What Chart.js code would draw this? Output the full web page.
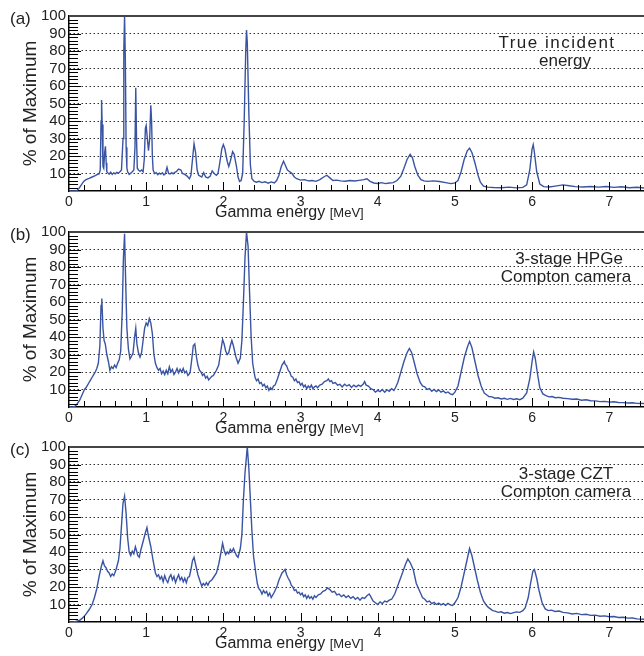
<!DOCTYPE html>
<html>
<head>
<meta charset="utf-8">
<script src="https://cdn.jsdelivr.net/npm/chart.js@4.4.1/dist/chart.umd.min.js"></script>
<style>
  html, body { margin: 0; padding: 0; background: #fff; }
  #wrap { position: relative; width: 644px; height: 656px; overflow: hidden; }
  canvas { position: absolute; left: 0; }
</style>
</head>
<body>
<div id="wrap">
  <canvas id="panel-a" width="644" height="225" style="top:0px"></canvas>
  <canvas id="panel-b" width="644" height="225" style="top:216px"></canvas>
  <canvas id="panel-c" width="644" height="225" style="top:431px"></canvas>
</div>
<script>
// spectra: [energy (MeV), % of maximum]
const trueSpectrum = [
  [0,0],[0.05,0],[0.10,0.2],[0.13,1.5],[0.16,3.5],[0.19,5.5],[0.22,6.5],[0.26,7.2],[0.30,8.0],[0.34,8.8],
  [0.37,9.5],[0.39,9.8],[0.405,12],[0.415,40],[0.422,52],[0.43,38],[0.44,14],[0.45,13],[0.462,22],[0.472,25.5],
  [0.482,16],[0.49,11],[0.50,10.5],[0.52,9.6],[0.54,10.8],[0.56,9.5],[0.58,10.4],[0.60,9.8],[0.62,10.6],[0.64,10.2],
  [0.66,11],[0.68,12],[0.70,30],[0.71,80],[0.72,100],[0.73,75],[0.74,25],[0.75,13],[0.76,11],[0.78,9.5],
  [0.80,10.2],[0.82,11],[0.84,12],[0.855,25],[0.865,59],[0.875,30],[0.885,13],[0.90,12],[0.92,11.2],[0.94,12],
  [0.96,11],[0.975,18],[0.99,36],[1.00,37.5],[1.015,30],[1.03,23],[1.045,30],[1.06,49],[1.07,40],[1.08,20],
  [1.09,12],[1.11,10],[1.13,10.5],[1.15,9.3],[1.17,10.2],[1.19,9.6],[1.21,10.4],[1.23,9.2],[1.25,10],[1.27,13.5],
  [1.29,10],[1.31,9.7],[1.33,10.5],[1.35,9.8],[1.37,10.6],[1.39,11],[1.42,12.5],[1.45,12],[1.47,10],[1.50,9.5],
  [1.53,8.5],[1.56,7],[1.58,9],[1.60,18],[1.62,27],[1.64,22],[1.66,12],[1.68,9],[1.70,8.5],[1.72,8],
  [1.745,10.5],[1.77,8],[1.80,7.5],[1.83,8.5],[1.855,11.5],[1.88,10],[1.91,9],[1.93,10],[1.95,15],[1.98,24],
  [2.00,26.5],[2.02,24],[2.05,17],[2.07,14],[2.09,17],[2.12,22.5],[2.14,21],[2.17,14],[2.19,8],[2.21,5.5],
  [2.23,6],[2.25,10],[2.27,40],[2.29,80],[2.30,92],[2.31,85],[2.33,45],[2.35,15],[2.37,7],[2.40,5.5],
  [2.43,5],[2.46,5.5],[2.50,4.8],[2.54,5.3],[2.58,4.5],[2.62,5.2],[2.66,4.6],[2.69,6],[2.72,9],[2.75,14],
  [2.78,17],[2.80,15],[2.83,12],[2.86,11],[2.89,10],[2.92,8],[2.95,7],[3.00,6.2],[3.05,6.5],[3.10,5.8],
  [3.15,6],[3.20,5.5],[3.25,6.5],[3.30,8],[3.34,9],[3.38,7.5],[3.42,6],[3.47,6.2],[3.52,5.8],[3.58,5.6],
  [3.64,6],[3.70,5.7],[3.76,6.1],[3.82,6.5],[3.86,7],[3.90,5.5],[3.95,4.6],[4.00,4.3],[4.05,4.8],[4.10,4.2],
  [4.15,4.6],[4.20,4.8],[4.25,6],[4.30,8.5],[4.34,13],[4.38,18],[4.42,21],[4.45,19],[4.48,14],[4.52,9],
  [4.56,6.5],[4.60,5.8],[4.65,5.5],[4.72,5.8],[4.80,5.4],[4.88,4.8],[4.95,4.2],[5.00,4.6],[5.04,6],[5.08,11],
  [5.12,18],[5.16,23],[5.19,24.5],[5.22,22],[5.26,16],[5.30,9],[5.33,5],[5.37,2.8],[5.42,2.2],[5.50,2.0],
  [5.60,1.9],[5.70,2.2],[5.80,1.8],[5.88,2.1],[5.93,3.5],[5.97,12],[6.00,24],[6.015,26.5],[6.03,22],[6.06,11],
  [6.10,4],[6.15,2.5],[6.22,2.3],[6.30,2.8],[6.40,3.5],[6.48,3],[6.56,2.5],[6.66,2.3],[6.76,2.6],[6.86,2.2],
  [6.96,2.6],[7.06,2.1],[7.16,2.4],[7.26,1.9],[7.36,2.1],[7.45,1.7]
];

const hpgeSpectrum = [
  [0,0],[0.05,0],[0.08,0.5],[0.11,2],[0.14,4],[0.17,7],[0.20,10],[0.22,11],[0.24,12.5],[0.26,14],
  [0.28,15.5],[0.30,17],[0.32,18.5],[0.34,20],[0.36,22],[0.38,25],[0.40,35],[0.415,58],[0.425,62],[0.44,45],
  [0.455,38],[0.47,36],[0.49,30],[0.51,26],[0.53,21],[0.55,23],[0.57,22],[0.59,24],[0.61,22.5],[0.63,25],
  [0.65,27],[0.67,32],[0.69,55],[0.705,85],[0.72,99],[0.735,70],[0.75,45],[0.77,33],[0.79,27.5],[0.81,29],
  [0.83,31],[0.85,40],[0.865,45],[0.88,36],[0.90,31],[0.92,28.5],[0.94,31],[0.96,38],[0.98,45],[1.00,48],
  [1.02,46.5],[1.04,50.5],[1.06,48],[1.08,42],[1.10,30],[1.12,25],[1.14,22.5],[1.16,21],[1.18,22],[1.20,19],
  [1.22,20.5],[1.24,18.5],[1.26,21],[1.28,19],[1.30,23],[1.32,20],[1.34,21.5],[1.36,18.5],[1.38,20],[1.40,22],
  [1.42,19.5],[1.44,21.5],[1.46,20],[1.48,22],[1.50,19.5],[1.52,20.5],[1.54,18],[1.56,19],[1.57,20],[1.59,27],
  [1.61,35],[1.63,36],[1.65,29],[1.67,24],[1.69,21],[1.71,20],[1.73,18],[1.75,19],[1.77,16.5],[1.79,17.5],
  [1.81,15.5],[1.83,16.5],[1.85,17.5],[1.87,18],[1.89,19.5],[1.91,21],[1.94,24],[1.97,33],[1.99,38.5],[2.01,36],
  [2.03,32],[2.05,30],[2.07,31],[2.09,35],[2.11,38],[2.13,35],[2.16,29],[2.19,25],[2.22,28],[2.24,38],
  [2.26,60],[2.28,85],[2.30,100],[2.32,92],[2.34,65],[2.36,40],[2.38,25],[2.41,17],[2.43,15],[2.45,16],
  [2.47,13.5],[2.49,14],[2.51,12],[2.53,13],[2.55,11],[2.57,12],[2.59,9.5],[2.61,11],[2.63,10],[2.65,12],
  [2.67,12.5],[2.70,16],[2.73,20],[2.76,24],[2.79,26],[2.80,24.5],[2.82,23.5],[2.84,21],[2.86,20],[2.88,17.5],
  [2.90,17],[2.92,15],[2.94,16],[2.96,14],[2.98,14.5],[3.00,12.5],[3.02,13.5],[3.04,11.5],[3.06,12.5],[3.08,10.5],
  [3.10,12],[3.12,11],[3.14,12.5],[3.16,10.5],[3.18,11.5],[3.20,12],[3.22,11],[3.25,12.5],[3.28,13],[3.31,14.5],
  [3.34,15],[3.36,16],[3.38,14.5],[3.40,15],[3.42,13.5],[3.45,14],[3.48,12.5],[3.51,13],[3.54,11.5],[3.57,13],
  [3.60,12],[3.63,12.8],[3.66,11.2],[3.69,12.5],[3.72,11.5],[3.75,12.5],[3.78,11.8],[3.81,13],[3.83,14.5],[3.85,12.5],
  [3.88,12],[3.91,10.5],[3.94,10],[3.97,8.5],[4.00,9.5],[4.03,8.8],[4.06,10],[4.09,8.5],[4.12,9.8],[4.15,9],
  [4.18,10.5],[4.21,9.5],[4.23,11],[4.26,14],[4.30,20],[4.34,26],[4.38,31],[4.41,33.5],[4.44,31],[4.47,26],
  [4.51,19],[4.55,14],[4.58,12],[4.61,11.5],[4.64,10],[4.67,10.5],[4.70,9],[4.73,10],[4.76,8.8],[4.79,9.8],
  [4.82,8.5],[4.85,9.2],[4.88,8],[4.91,8.6],[4.94,7.5],[4.97,7],[5.00,8.5],[5.04,12],[5.08,20],[5.12,28],
  [5.16,34],[5.19,37.5],[5.22,34],[5.26,26],[5.30,18],[5.34,12],[5.38,8],[5.41,7],[5.44,6],[5.48,5.8],
  [5.52,5],[5.56,5.3],[5.60,4.6],[5.64,5],[5.68,4.4],[5.72,4.9],[5.76,4.3],[5.80,4.7],[5.84,4.2],[5.88,5],
  [5.93,8],[5.97,16],[6.00,26],[6.02,31.5],[6.04,28],[6.07,19],[6.10,11],[6.14,7.5],[6.18,6.5],[6.22,5.8],
  [6.26,6],[6.30,5.3],[6.35,5.5],[6.40,5],[6.46,4.8],[6.52,4.4],[6.58,4.6],[6.64,3.9],[6.70,4.1],[6.76,3.6],
  [6.82,3.5],[6.88,3.1],[6.94,3.2],[7.00,2.8],[7.06,3],[7.12,2.6],[7.18,2.5],[7.24,2.3],[7.30,2.4],[7.36,2.1],
  [7.45,2]
];

const cztSpectrum = [
  [0,0],[0.06,0],[0.10,0.5],[0.14,1],[0.18,2.5],[0.22,4.5],[0.26,7],[0.30,10],[0.33,14],[0.36,19],
  [0.39,26],[0.42,32],[0.44,35],[0.46,32],[0.48,31],[0.50,29],[0.52,28],[0.54,26],[0.56,27.5],[0.58,26.5],
  [0.61,30],[0.64,35],[0.66,42],[0.68,55],[0.70,68],[0.72,72],[0.74,62],[0.76,48],[0.78,40],[0.80,38],
  [0.82,40.5],[0.84,39],[0.86,43],[0.88,40],[0.89,38],[0.91,37],[0.93,41],[0.96,46],[0.99,51],[1.01,54],
  [1.03,49],[1.06,43],[1.09,35],[1.12,28],[1.14,26],[1.16,27],[1.18,24.5],[1.20,26],[1.22,23],[1.24,26.5],
  [1.26,24],[1.28,22.5],[1.30,25.5],[1.32,27],[1.34,24],[1.36,26],[1.38,22.5],[1.40,25],[1.42,27],[1.44,24],
  [1.46,25.5],[1.48,23],[1.50,25],[1.52,22.5],[1.54,25.5],[1.56,26],[1.58,30],[1.60,35],[1.62,37],[1.64,33],
  [1.67,27],[1.70,23],[1.72,20.5],[1.74,22],[1.76,21],[1.78,22.5],[1.80,21],[1.82,23],[1.85,24],[1.88,26],
  [1.91,28],[1.94,33],[1.97,40],[1.99,45],[2.01,41],[2.03,38.5],[2.05,40],[2.07,39],[2.09,41.5],[2.11,40],
  [2.13,42],[2.15,40],[2.17,38],[2.19,37],[2.22,42],[2.24,50],[2.26,70],[2.28,85],[2.30,95],[2.31,100],
  [2.33,88],[2.35,70],[2.37,52],[2.39,38],[2.42,28],[2.44,22],[2.46,19],[2.48,18],[2.50,16],[2.52,18],
  [2.54,16.5],[2.56,17.5],[2.58,15],[2.60,16.5],[2.62,14],[2.64,15.5],[2.66,17],[2.68,19],[2.70,21],[2.72,24],
  [2.74,26],[2.76,28],[2.78,29],[2.80,30],[2.82,27],[2.84,25],[2.86,23.5],[2.88,21],[2.90,20],[2.92,18],
  [2.94,18.5],[2.96,16.5],[2.98,17],[3.00,15.5],[3.02,16.5],[3.04,14.5],[3.06,15.5],[3.08,13.5],[3.10,15],[3.12,13.5],
  [3.14,14.5],[3.16,13],[3.18,15],[3.20,14],[3.23,15.5],[3.26,16],[3.29,17.5],[3.32,18],[3.35,19.5],[3.38,18.5],
  [3.41,17],[3.44,17.5],[3.47,15.5],[3.50,16],[3.53,14.5],[3.56,15.5],[3.59,14],[3.62,15],[3.65,13.5],[3.68,14.5],
  [3.71,13],[3.74,14],[3.77,12.5],[3.80,14],[3.83,13.5],[3.86,15],[3.89,16],[3.91,14.5],[3.94,12],[3.97,11],
  [4.00,10],[4.03,11.5],[4.06,10.5],[4.09,12],[4.12,11.5],[4.15,12.5],[4.18,13],[4.22,16],[4.27,22],[4.32,28],
  [4.36,33],[4.39,36],[4.42,34],[4.46,30],[4.50,22],[4.55,17],[4.58,14],[4.61,13],[4.64,11.5],[4.67,12],
  [4.70,10.5],[4.73,11.2],[4.76,10],[4.79,10.8],[4.82,9.8],[4.85,10.5],[4.88,9.5],[4.91,10.6],[4.94,9.8],[4.97,9.5],
  [5.00,11],[5.04,14],[5.08,20],[5.12,28],[5.16,36],[5.19,42],[5.22,38],[5.25,32],[5.29,24],[5.33,17],
  [5.37,12],[5.40,10],[5.43,8.5],[5.46,7.5],[5.49,6.5],[5.52,6.2],[5.56,5.5],[5.60,5.8],[5.64,5],[5.68,5.4],
  [5.72,4.8],[5.76,5.4],[5.80,5.8],[5.84,5.5],[5.88,6.5],[5.91,8],[5.95,14],[5.98,22],[6.01,29],[6.03,30],
  [6.06,25],[6.09,18],[6.13,11],[6.17,7.5],[6.21,6.5],[6.25,6.8],[6.30,6],[6.35,6.3],[6.40,5.5],[6.46,5.2],
  [6.52,4.6],[6.58,4.9],[6.64,4.2],[6.70,4.4],[6.76,3.8],[6.82,3.9],[6.88,3.3],[6.94,3.5],[7.00,3],[7.06,3.1],
  [7.12,2.6],[7.18,2.7],[7.24,2.2],[7.30,2.3],[7.36,1.8],[7.45,1.6]
];

const energyLabels = [0, 1, 2, 3, 4, 5, 6, 7];
const percentLabels = [0, 10, 20, 30, 40, 50, 60, 70, 80, 90, 100];
const panelLabels = ['(a)', '(b)', '(c)'];
const panelNotes = [
  ['True incident', 'energy'],
  ['3-stage HPGe', 'Compton camera'],
  ['3-stage CZT', 'Compton camera'],
];
const yTitle = '% of Maximum';
const xTitle = 'Gamma energy';
const xUnit = '[MeV]';

const FONT = "'Liberation Sans', Arial, Helvetica, sans-serif";
const BLUE = '#3a54a4';

// centre x of the two note lines, per panel
const noteX = [[557, 565], [569, 566], [566, 566]];

// inward tick marks, drawn on top of everything else
const innerTicks = {
  id: 'innerTicks',
  afterDraw(chart) {
    const { ctx, chartArea: a, scales } = chart;
    const xs = scales.x;
    const ys = scales.y;
    ctx.save();
    ctx.globalAlpha = 1;
    ctx.fillStyle = '#000';
    for (let k = 1; k < 50; k++) {
      const py = Math.round(ys.getPixelForValue(k * 2));
      const len = k % 5 === 0 ? 12 : 9;
      ctx.fillRect(Math.round(a.left), py, len, 1);
    }
    for (let k = 1; k * 0.2 < xs.max; k++) {
      const px = Math.round(xs.getPixelForValue(k * 0.2));
      const len = k % 5 === 0 ? 9 : 6;
      ctx.fillRect(px, Math.round(a.bottom) - len, 1, len);
    }
    ctx.restore();
  }
};

const decor = {
  id: 'decor',
  afterDatasetsDraw(chart, args, opts) {
    const { ctx, chartArea: a } = chart;
    ctx.save();

    // top frame line
    ctx.fillStyle = '#444';
    ctx.fillRect(a.left, a.top - 1, a.right - a.left, 2);

    ctx.fillStyle = '#222';
    // panel label
    ctx.font = '17px ' + FONT;
    ctx.textAlign = 'left';
    ctx.textBaseline = 'alphabetic';
    ctx.fillText(opts.label, 10, 24);

    // y title
    ctx.save();
    ctx.translate(31, (a.top + a.bottom) / 2);
    ctx.rotate(-Math.PI / 2);
    ctx.font = '19px ' + FONT;
    ctx.textAlign = 'center';
    ctx.textBaseline = 'middle';
    ctx.fillText(yTitle, 0, 0);
    ctx.restore();

    // x title with smaller unit
    ctx.font = '16px ' + FONT;
    ctx.textAlign = 'left';
    ctx.fillText(xTitle, 215, a.bottom + 26);
    const w = ctx.measureText(xTitle + ' ').width;
    ctx.font = '13px ' + FONT;
    ctx.fillText(xUnit, 215 + w, a.bottom + 26);

    // note
    ctx.font = '17px ' + FONT;
    ctx.textAlign = 'center';
    ctx.letterSpacing = opts.spaced ? '1.5px' : '0px';
    ctx.fillText(opts.note[0], opts.noteX[0], 48);
    ctx.letterSpacing = '0px';
    ctx.fillText(opts.note[1], opts.noteX[1], 66);

    ctx.restore();
  }
};

function makePanel(id, spectrum, idx) {
  const canvas = document.getElementById(id);
  new Chart(canvas, {
    type: 'line',
    data: {
      datasets: [{
        data: spectrum.map(([e, v]) => ({ x: e, y: v })),
        borderColor: BLUE,
        borderWidth: 1.4,
        pointRadius: 0,
        tension: 0,
        fill: false,
      }],
    },
    options: {
      responsive: false,
      animation: false,
      events: [],
      layout: { padding: { top: 16, right: 0, bottom: 0, left: 0 } },
      scales: {
        x: {
          type: 'linear',
          min: 0,
          max: 7.45,
          afterFit: (s) => { s.height = canvas.height - 16 - 175; },
          afterBuildTicks: (s) => { s.ticks = energyLabels.map(v => ({ value: v })); },
          grid: { display: false, drawTicks: false },
          border: { display: true, color: '#000', width: 1.5 },
          ticks: {
            padding: 3,
            autoSkip: false,
            maxRotation: 0,
            color: '#222',
            font: { family: FONT, size: 14 },
          },
        },
        y: {
          min: 0,
          max: 100,
          afterFit: (s) => { s.width = 69; },
          afterBuildTicks: (s) => { s.ticks = percentLabels.map(v => ({ value: v })); },
          grid: {
            drawTicks: false,
            color: (c) => (c.tick && c.tick.value > 0 && c.tick.value < 100) ? '#333' : 'rgba(0,0,0,0)',
            lineWidth: 1,
          },
          border: { display: true, color: '#000', width: 1.5, dash: [1.5, 2.5] },
          ticks: {
            padding: 3,
            autoSkip: false,
            color: '#222',
            font: { family: FONT, size: 15 },
            callback: (v) => (v === 0 ? '' : v),
          },
        },
      },
      plugins: {
        legend: { display: false },
        tooltip: { enabled: false },
        decor: {
          label: panelLabels[idx],
          note: panelNotes[idx],
          noteX: noteX[idx],
          spaced: idx === 0,
        },
      },
    },
    plugins: [decor, innerTicks],
  });
}

makePanel('panel-a', trueSpectrum, 0);
makePanel('panel-b', hpgeSpectrum, 1);
makePanel('panel-c', cztSpectrum, 2);
</script>
</body>
</html>
